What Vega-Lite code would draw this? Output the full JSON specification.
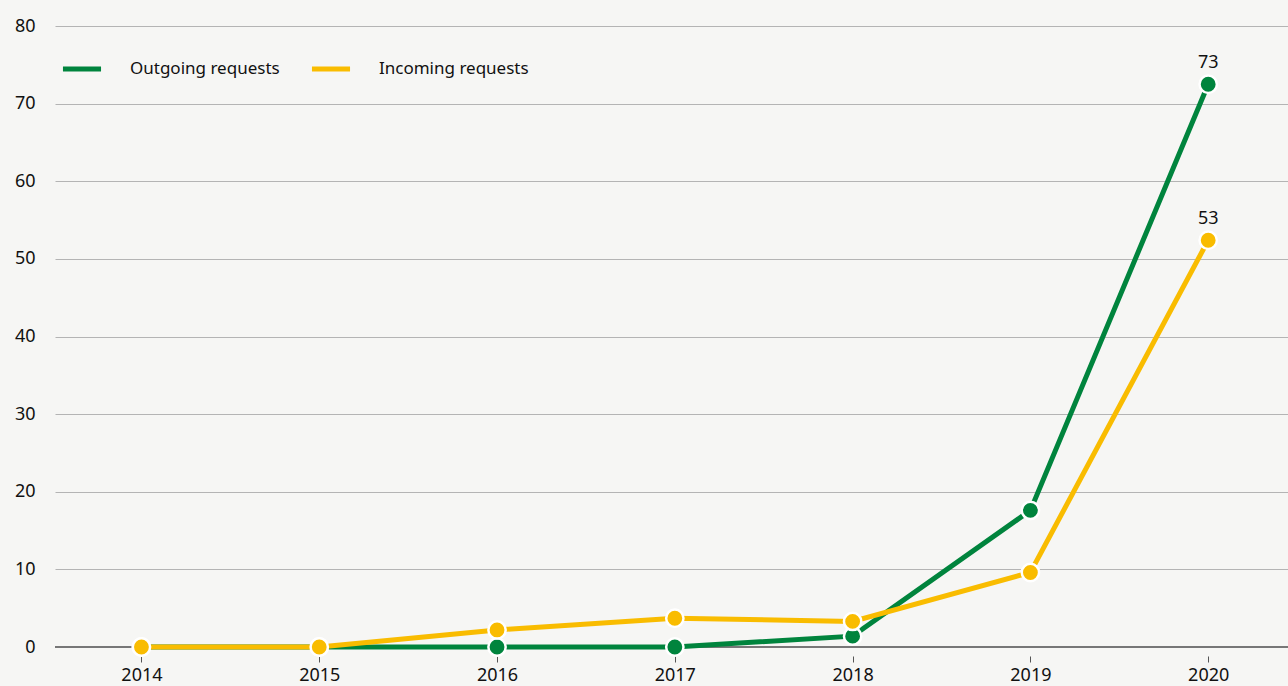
{
  "$schema": "https://vega.github.io/schema/vega-lite/v6.json",
  "width": 1233,
  "height": 621,
  "autosize": {"type": "none"},
  "padding": {"left": 55, "top": 26, "right": 0, "bottom": 39},
  "background": "#f6f6f4",
  "config": {
    "view": {"stroke": null},
    "font": "Noto Sans",
    "axis": {"labelFont": "Noto Sans", "labelFontSize": 18, "labelColor": "#111111"},
    "legend": {"labelFont": "Noto Sans", "labelFontSize": 17, "labelColor": "#111111"}
  },
  "data": {
    "values": [
      {"year": "2014", "series": "Outgoing requests", "value": 0},
      {"year": "2015", "series": "Outgoing requests", "value": 0},
      {"year": "2016", "series": "Outgoing requests", "value": 0},
      {"year": "2017", "series": "Outgoing requests", "value": 0},
      {"year": "2018", "series": "Outgoing requests", "value": 1.4},
      {"year": "2019", "series": "Outgoing requests", "value": 17.6},
      {"year": "2020", "series": "Outgoing requests", "value": 72.5, "label": "73"},
      {"year": "2014", "series": "Incoming requests", "value": 0},
      {"year": "2015", "series": "Incoming requests", "value": 0},
      {"year": "2016", "series": "Incoming requests", "value": 2.2},
      {"year": "2017", "series": "Incoming requests", "value": 3.7},
      {"year": "2018", "series": "Incoming requests", "value": 3.3},
      {"year": "2019", "series": "Incoming requests", "value": 9.6},
      {"year": "2020", "series": "Incoming requests", "value": 52.4, "label": "53"}
    ]
  },
  "encoding": {
    "x": {
      "field": "year", "type": "ordinal",
      "scale": {"type": "point", "padding": 0.4675, "align": 0.52},
      "axis": {"title": null, "labelAngle": 0, "domain": false, "ticks": true, "tickColor": "#555555", "tickSize": 6, "offset": 9, "labelPadding": 4, "grid": false}
    },
    "y": {
      "field": "value", "type": "quantitative",
      "scale": {"domain": [0, 80], "nice": false},
      "axis": {"title": null, "values": [0,10,20,30,40,50,60,70,80], "domain": false, "ticks": false, "labelPadding": 20, "gridColor": "#b4b4b4", "gridWidth": 1.2}
    },
    "color": {
      "field": "series", "type": "nominal",
      "scale": {"domain": ["Outgoing requests", "Incoming requests"], "range": ["#00843d", "#f9bc00"]},
      "legend": {"title": null, "orient": "none", "legendX": 5, "legendY": 21, "direction": "horizontal", "symbolType": "stroke", "symbolStrokeWidth": 5, "symbolSize": 1450, "labelOffset": 26, "columnPadding": 21}
    }
  },
  "layer": [
    {"mark": {"type": "rule", "color": "#777777", "strokeWidth": 1.5}, "encoding": {"x": null, "color": null, "y": {"datum": 0}}},
    {"transform": [{"filter": "datum.series == 'Outgoing requests'"}], "mark": {"type": "line", "strokeWidth": 5}},
    {"transform": [{"filter": "datum.series == 'Outgoing requests'"}], "mark": {"type": "point", "filled": true, "size": 300, "stroke": "white", "strokeWidth": 2.5, "opacity": 1}},
    {"transform": [{"filter": "datum.series == 'Incoming requests'"}], "mark": {"type": "line", "strokeWidth": 5}},
    {"transform": [{"filter": "datum.series == 'Incoming requests'"}], "mark": {"type": "point", "filled": true, "size": 300, "stroke": "white", "strokeWidth": 2.5, "opacity": 1}},
    {"transform": [{"filter": "isValid(datum.label)"}], "mark": {"type": "text", "dy": -21, "fontSize": 18, "color": "#111111"}, "encoding": {"text": {"field": "label"}, "color": null}}
  ]
}
